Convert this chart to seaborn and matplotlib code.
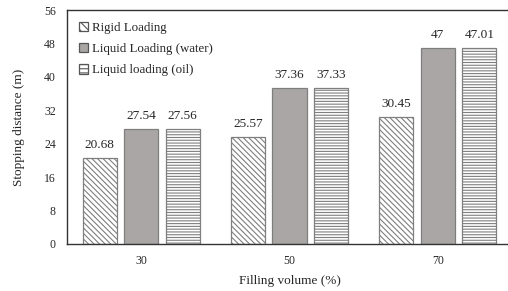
"""Stopping distance by filling volume for three loading types."""

import matplotlib

matplotlib.use("Agg")
import matplotlib.pyplot as plt
import pandas as pd
import seaborn as sns

volumes = ["30", "50", "70"]
loadings = ["Rigid Loading", "Liquid Loading (water)", "Liquid loading (oil)"]
rigid = [20.68, 25.57, 30.45]
water = [27.54, 37.36, 47.0]
oil = [27.56, 37.33, 47.01]
value_labels = [["20.68", "25.57", "30.45"], ["27.54", "37.36", "47"], ["27.56", "37.33", "47.01"]]
y_ticks = [0, 8, 16, 24, 32, 40, 48, 56]

sns.set_theme(style="white")
plt.rcParams["font.family"] = ["Liberation Serif", "DejaVu Serif"]
plt.rcParams["hatch.linewidth"] = 0.8

frame = pd.DataFrame(
    {
        "volume": volumes * 3,
        "loading": [loadings[0]] * 3 + [loadings[1]] * 3 + [loadings[2]] * 3,
        "distance": rigid + water + oil,
    }
)

fig = plt.figure(figsize=(5.08, 2.91), dpi=100)
ax = fig.add_axes([67 / 508, 1 - 244 / 291, 445 / 508, 234 / 291])

sns.barplot(
    data=frame,
    x="volume",
    y="distance",
    hue="loading",
    order=volumes,
    hue_order=loadings,
    width=0.84,
    gap=0.18,
    palette=["white", "#aaa6a4", "white"],
    edgecolor="#7f7f7f",
    linewidth=0.9,
    errorbar=None,
    ax=ax,
)

hatches = ["\\\\\\\\\\\\", None, "------"]
for container, hatch, labels in zip(ax.containers, hatches, value_labels):
    for bar in container:
        if hatch:
            bar.set_hatch(hatch)
    ax.bar_label(container, labels=labels, padding=5, fontsize=9.5)

ax.set_ylim(0, 56)
ax.set_xlim(-0.5, 2.5)
ax.set_yticks(y_ticks)
ax.tick_params(axis="both", labelsize=8.5, length=0, pad=8)
ax.set_xlabel("Filling volume (%)", fontsize=9.5, labelpad=6)
ax.set_ylabel("Stopping distance (m)", fontsize=9.5, labelpad=14)
for side in ["left", "bottom", "top", "right"]:
    ax.spines[side].set_color("#333333")
    ax.spines[side].set_linewidth(1.0)

legend = ax.legend(
    loc="upper left",
    frameon=False,
    fontsize=9.3,
    handlelength=0.75,
    handleheight=0.75,
    handletextpad=0.3,
    labelspacing=0.7,
    borderaxespad=0.5,
)
legend_hatches = ["\\\\\\\\", None, "----"]
for handle, hatch in zip(legend.legend_handles, legend_hatches):
    handle.set_edgecolor("#555555")
    if hatch:
        handle.set_hatch(hatch)

fig.savefig("out.png", dpi=100)
